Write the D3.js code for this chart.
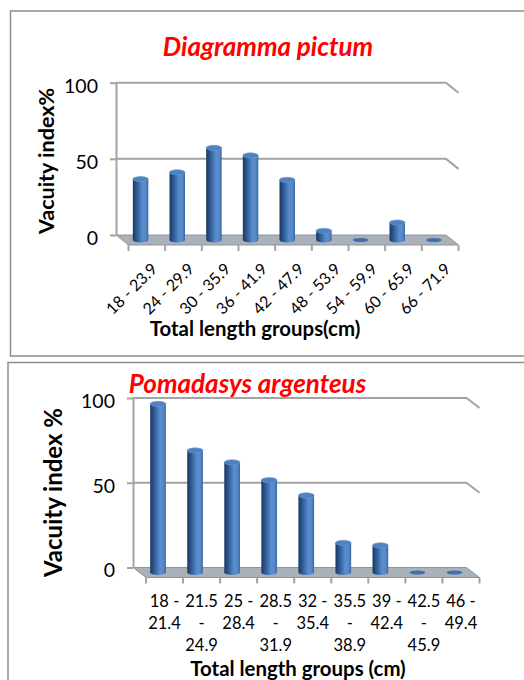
<!DOCTYPE html>
<html>
<head>
<meta charset="utf-8">
<script src="https://cdn.jsdelivr.net/npm/d3@7"></script>
<style>
  body { margin: 0; background: #fff; }
  svg { display: block; font-family: Lato, "Open Sans", sans-serif; }
</style>
</head>
<body>
<svg id="chart" width="524" height="680"></svg>
<script>
// Data
const yTicks = [0, 50, 100];

const dpGroups = ["18 - 23.9", "24 - 29.9", "30 - 35.9", "36 - 41.9", "42 - 47.9",
                  "48 - 53.9", "54 - 59.9", "60 - 65.9", "66 - 71.9"];
const dpValues = [40, 44.5, 60.5, 55.5, 39.5, 6, 0, 11.5, 0];

const paGroups = ["18 - 21.4", "21.5 - 24.9", "25 - 28.4", "28.5 - 31.9", "32 - 35.4",
                  "35.5 - 38.9", "39 - 42.4", "42.5 - 45.9", "46 - 49.4"];
const paValues = [99.5, 72, 65, 54.5, 45.5, 17.5, 16, 0, 0];
// wrapped tick labels as in the picture
const paTickLines = [["18 -", "21.4"], ["21.5", "-", "24.9"], ["25 -", "28.4"], ["28.5", "-", "31.9"],
                     ["32 -", "35.4"], ["35.5", "-", "38.9"], ["39 -", "42.4"], ["42.5", "-", "45.9"],
                     ["46 -", "49.4"]];

const svg = d3.select("#chart");

// cylinder shading
const defs = svg.append("defs");
const grad = defs.append("linearGradient").attr("id", "cyl")
  .attr("x1", "0%").attr("x2", "100%").attr("y1", "0%").attr("y2", "0%");
[[0, "#1c375e"], [0.3, "#31609b"], [0.62, "#5a8dce"], [0.82, "#5889c9"], [1, "#3a68a3"]]
  .forEach(s => grad.append("stop").attr("offset", s[0]).attr("stop-color", s[1]));

const gridColor = "#a3a3a3";

function drawChart(o) {
  const g = svg.append("g");

  // khung
  g.append("rect")
    .attr("x", o.box[0]).attr("y", o.box[1])
    .attr("width", o.box[2]).attr("height", o.box[3])
    .attr("fill", "none").attr("stroke", "#8e8e8e").attr("stroke-width", 1.5);

  const x = d3.scaleBand().domain(o.groups).range([o.left, o.right]);
  const y = d3.scaleLinear().domain([0, 100]).range([o.bottom, o.top]);
  const dx = o.dx, dy = o.dy;

  // floor
  const y0 = y(0);
  g.append("polygon")
    .attr("points", [[o.left, y0], [o.right, y0], [o.right + dx, y0 + dy], [o.left + dx, y0 + dy]].join(" "))
    .attr("fill", "#a9b1bb").attr("stroke", "#8f959c").attr("stroke-width", 1);

  // gridlines on the back wall and right side
  yTicks.filter(t => t > 0).forEach(t => {
    g.append("polyline")
      .attr("points", [[o.left, y(t)], [o.right, y(t)], [o.right + dx, y(t) + dy]].join(" "))
      .attr("fill", "none").attr("stroke", gridColor).attr("stroke-width", 2);
  });

  // y axis
  const ax = g.append("g")
    .attr("transform", `translate(${o.left},0)`)
    .call(d3.axisLeft(y).tickValues(yTicks).tickSize(6).tickSizeOuter(0).tickPadding(12));
  ax.select(".domain").attr("stroke", gridColor).attr("stroke-width", 2);
  ax.selectAll(".tick line").attr("stroke", gridColor).attr("stroke-width", 2);
  ax.selectAll(".tick text")
    .attr("fill", "#000").attr("dy", "0.48em")
    .style("font-size", "19.5px").style("font-family", "Lato, sans-serif");

  // front ticks at band edges
  const edges = o.groups.map(d => x(d)).concat([o.right]);
  g.selectAll("line.ftick").data(edges).enter().append("line")
    .attr("class", "ftick")
    .attr("x1", d => d + dx).attr("x2", d => d + dx)
    .attr("y1", y0 + dy).attr("y2", y0 + dy + 6)
    .attr("stroke", gridColor).attr("stroke-width", 2);

  // bars (cylinders on the middle depth plane)
  const rx = o.barW / 2, ry = 2.6;
  const bars = g.selectAll("g.bar")
    .data(o.groups.map((k, i) => ({ k, v: o.values[i] })))
    .enter().append("g").attr("class", "bar");

  bars.each(function (d) {
    const cx = x(d.k) + x.bandwidth() / 2 + dx / 2;
    const yb = y(0) + dy / 2;
    const yt = y(d.v) + dy / 2;
    const s = d3.select(this);
    if (d.v > 0) {
      s.append("path")
        .attr("d", `M${cx - rx},${yt} L${cx - rx},${yb} A${rx},${ry} 0 0 0 ${cx + rx},${yb} L${cx + rx},${yt} Z`)
        .attr("fill", "url(#cyl)");
      s.append("ellipse")
        .attr("cx", cx).attr("cy", yt).attr("rx", rx).attr("ry", ry)
        .attr("fill", "#4f80c0").attr("stroke", "#6f9ad2").attr("stroke-width", 0.6);
    } else {
      s.append("ellipse")
        .attr("cx", cx).attr("cy", yb).attr("rx", rx).attr("ry", ry - 0.6)
        .attr("fill", "#3f6fae");
    }
  });

  // title
  g.append("text")
    .attr("x", o.title.x).attr("y", o.title.y)
    .attr("text-anchor", "middle")
    .attr("fill", "#ff0000")
    .style("font-size", o.title.size + "px")
    .style("font-weight", "bold").style("font-style", "italic")
    .text(o.title.text);

  // y label
  g.append("text")
    .attr("transform", `translate(${o.ylab.x},${o.ylab.y}) rotate(-90)`)
    .attr("text-anchor", "middle")
    .style("font-size", o.ylab.size + "px").style("font-weight", "bold")
    .text(o.ylab.text);

  // x label
  g.append("text")
    .attr("x", o.xlab.x).attr("y", o.xlab.y)
    .attr("text-anchor", "middle")
    .style("font-size", "20.4px").style("font-weight", "bold")
    .text(o.xlab.text);

  return { g, x, y };
}

// ---- Diagramma pictum ----
const c1 = drawChart({
  box: [10.5, 11, 530, 345],
  groups: dpGroups, values: dpValues,
  left: 116, right: 446, top: 82.7, bottom: 235, dx: 12.5, dy: 10, barW: 15.5,
  title: { text: "Diagramma pictum", x: 268, y: 56, size: 26 },
  ylab: { text: "Vacuity index%", x: 54, y: 161, size: 21.5 },
  xlab: { text: "Total length groups(cm)", x: 255, y: 336 }
});
c1.g.selectAll("text.xt").data(dpGroups).enter().append("text")
  .attr("class", "xt")
  .attr("text-anchor", "end")
  .attr("transform", d => `translate(${c1.x(d) + c1.x.bandwidth() / 2 + 12.5 + 11.5},270) rotate(-45)`)
  .style("font-size", "16px")
  .text(d => d);

// ---- Pomadasys argenteus ----
const c2 = drawChart({
  box: [8, 362.5, 530, 330],
  groups: paGroups, values: paValues,
  left: 133, right: 466.5, top: 398, bottom: 567.5, dx: 13, dy: 10, barW: 15.7,
  title: { text: "Pomadasys argenteus", x: 247.5, y: 393, size: 26 },
  ylab: { text: "Vacuity index %", x: 62, y: 492.5, size: 24 },
  xlab: { text: "Total length groups (cm)", x: 298, y: 675.5 }
});
const xt2 = c2.g.selectAll("text.xt").data(paGroups).enter().append("text")
  .attr("class", "xt")
  .attr("text-anchor", "middle")
  .style("font-size", "16.5px");
xt2.each(function (d, i) {
  const cx = c2.x(d) + c2.x.bandwidth() / 2 + 13;
  paTickLines[i].forEach((line, j) => {
    d3.select(this).append("tspan")
      .attr("x", cx).attr("y", 606.5 + j * 22)
      .text(line);
  });
});
</script>
</body>
</html>
